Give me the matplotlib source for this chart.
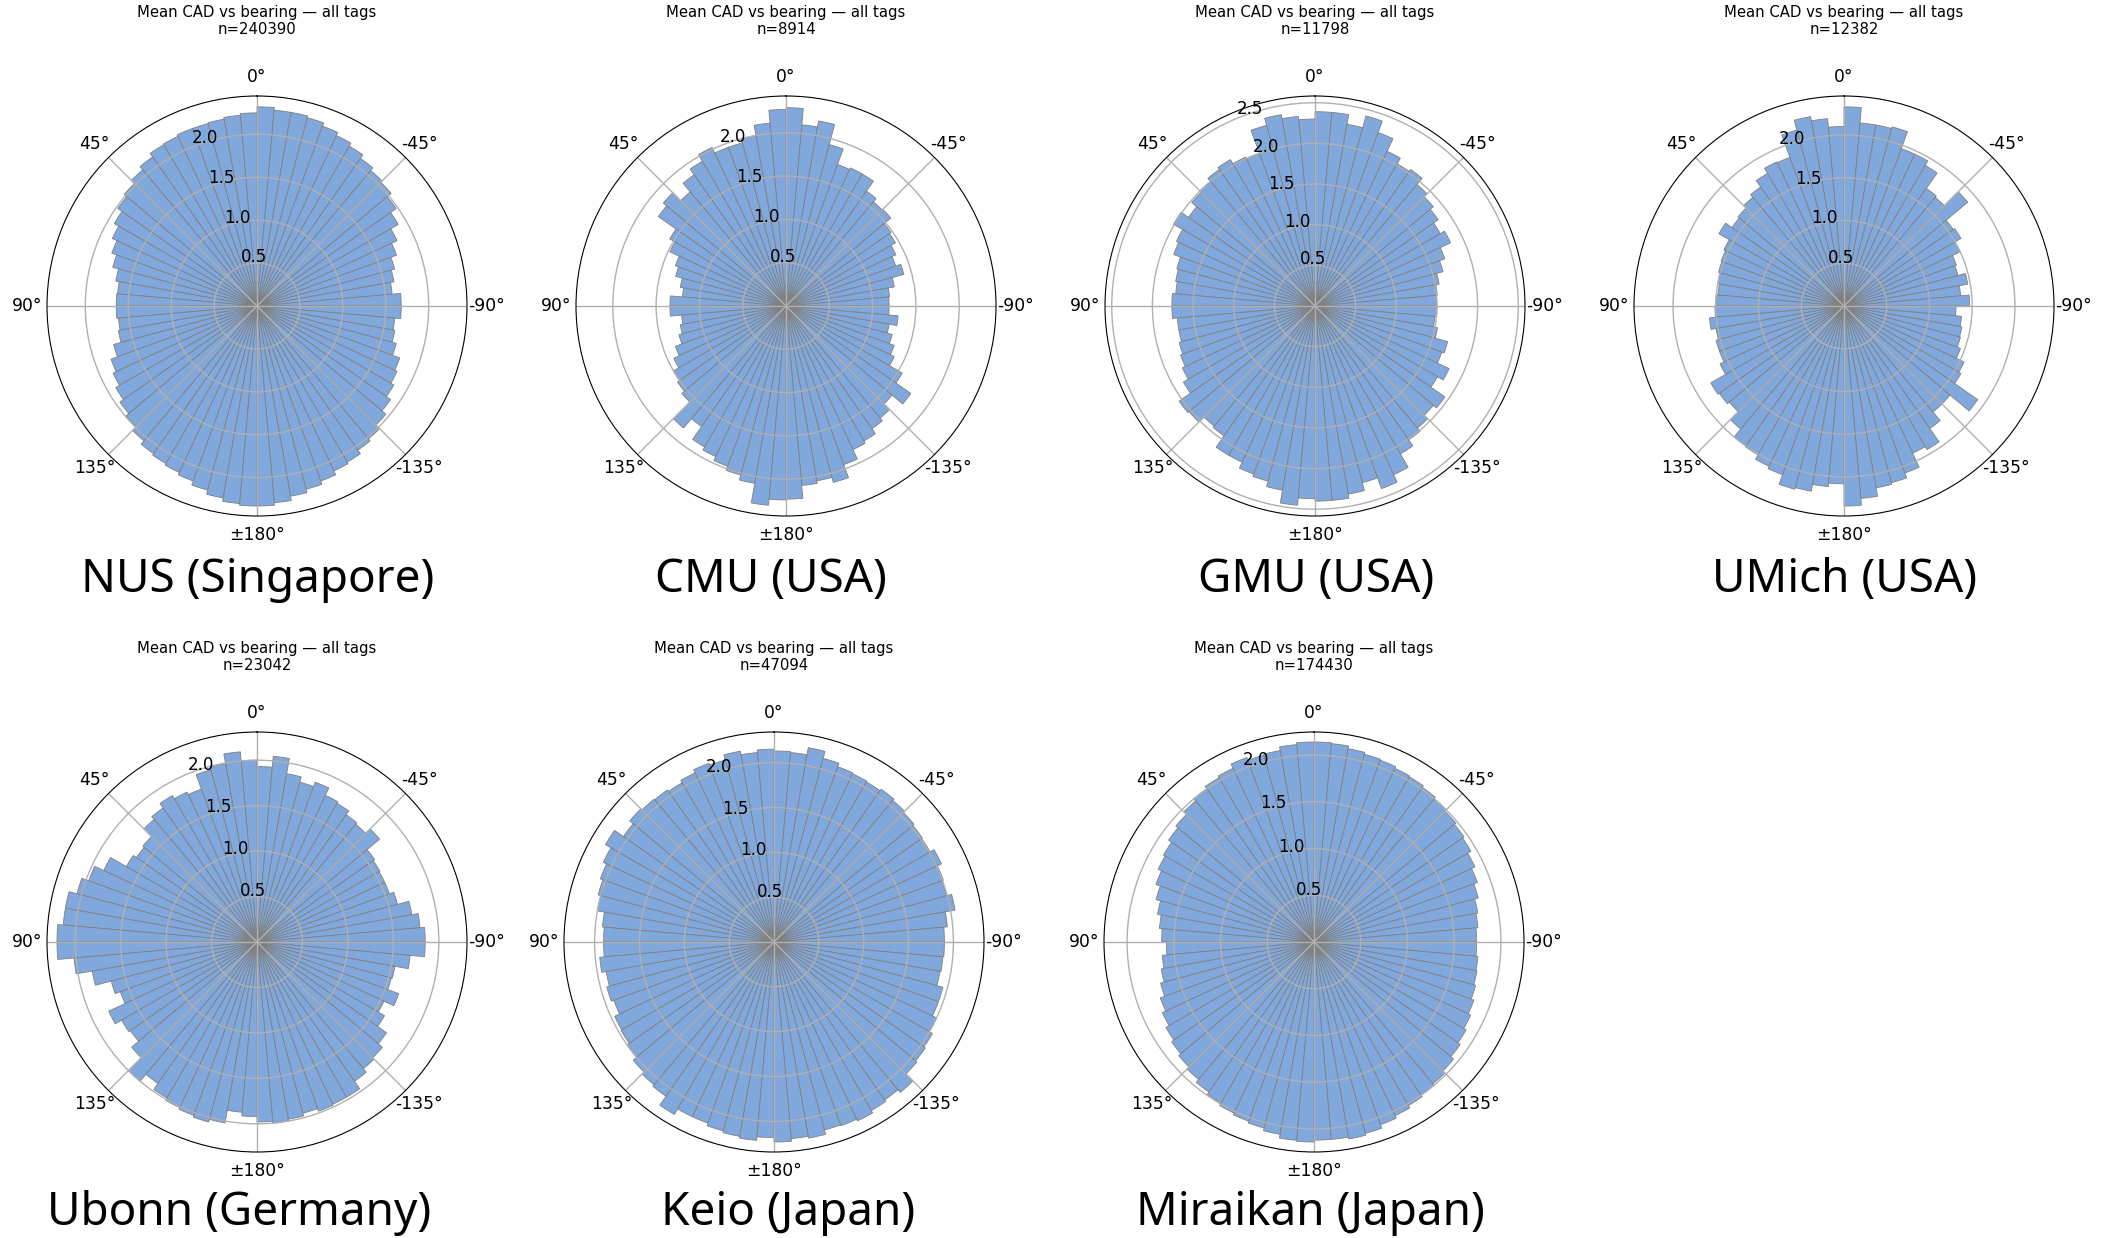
import numpy as np
import matplotlib
matplotlib.use("Agg")
from matplotlib import pyplot as plt

# bin centres: first 36 go clockwise from north (-2.5 .. -177.5),
# last 36 go counter-clockwise from north (2.5 .. 177.5)
bearings = np.concatenate([-np.arange(2.5, 180, 5), np.arange(2.5, 180, 5)])

sites = ["NUS (Singapore)", "CMU (USA)", "GMU (USA)", "UMich (USA)",
         "Ubonn (Germany)", "Keio (Japan)", "Miraikan (Japan)"]
counts = [240390, 8914, 11798, 12382, 23042, 47094, 174430]

nus = [2.32, 2.29, 2.29, 2.27, 2.23, 2.19, 2.15, 2.10, 2.06, 2.04, 1.98, 1.90, 1.80, 1.73, 1.66, 1.62, 1.58, 1.68,
       1.68, 1.61, 1.63, 1.68, 1.77, 1.80, 1.84, 1.90, 1.96, 2.02, 2.05, 2.10, 2.12, 2.17, 2.21, 2.25, 2.30, 2.33,
       2.25, 2.23, 2.21, 2.20, 2.20, 2.18, 2.17, 2.12, 2.07, 2.02, 1.98, 1.92, 1.86, 1.80, 1.74, 1.67, 1.63, 1.64,
       1.64, 1.62, 1.64, 1.73, 1.81, 1.85, 1.90, 1.95, 1.99, 2.05, 2.10, 2.12, 2.14, 2.17, 2.22, 2.27, 2.31, 2.33]
cmu = [2.29, 2.10, 2.17, 1.93, 1.74, 1.76, 1.76, 1.62, 1.57, 1.58, 1.48, 1.46, 1.40, 1.35, 1.41, 1.27, 1.20, 1.19,
       1.19, 1.30, 1.21, 1.27, 1.33, 1.38, 1.55, 1.76, 1.60, 1.69, 1.73, 1.80, 1.83, 1.95, 2.11, 2.05, 2.08, 2.23,
       2.27, 2.12, 2.00, 1.95, 1.95, 2.02, 1.93, 1.85, 1.72, 1.85, 1.80, 1.55, 1.48, 1.36, 1.32, 1.24, 1.20, 1.34,
       1.34, 1.21, 1.24, 1.28, 1.36, 1.43, 1.50, 1.53, 1.57, 1.84, 1.70, 1.88, 1.92, 1.97, 2.02, 2.08, 2.31, 2.24]
gmu = [2.39, 2.39, 2.27, 2.42, 2.27, 2.10, 2.02, 2.05, 1.95, 1.90, 1.85, 1.78, 1.84, 1.70, 1.63, 1.55, 1.51, 1.50,
       1.50, 1.48, 1.53, 1.69, 1.66, 1.82, 1.74, 1.95, 1.90, 1.96, 2.01, 2.10, 2.29, 2.39, 2.25, 2.35, 2.40, 2.40,
       2.30, 2.34, 2.39, 2.30, 2.00, 2.02, 2.08, 2.05, 2.00, 1.98, 1.90, 2.01, 1.88, 1.85, 1.76, 1.74, 1.72, 1.76,
       1.76, 1.70, 1.70, 1.73, 1.76, 1.80, 1.87, 2.04, 2.02, 1.93, 1.95, 2.12, 2.12, 2.20, 2.23, 2.30, 2.46, 2.37]
umich = [2.33, 2.15, 2.15, 2.17, 1.96, 1.96, 1.90, 1.68, 1.66, 1.89, 1.56, 1.58, 1.50, 1.40, 1.38, 1.47, 1.37, 1.47,
         1.31, 1.38, 1.40, 1.41, 1.45, 1.55, 1.58, 1.91, 1.62, 1.62, 1.75, 1.94, 1.90, 2.08, 2.14, 2.16, 2.26, 2.34,
         2.10, 2.20, 2.25, 2.13, 1.85, 1.86, 1.79, 1.70, 1.66, 1.62, 1.60, 1.69, 1.55, 1.53, 1.52, 1.50, 1.48, 1.50,
         1.51, 1.58, 1.52, 1.55, 1.55, 1.60, 1.80, 1.78, 1.75, 1.88, 2.00, 2.01, 2.07, 2.10, 2.22, 2.20, 2.12, 2.08]
ubonn = [1.93, 2.05, 1.88, 1.82, 1.87, 1.78, 1.76, 1.71, 1.69, 1.76, 1.58, 1.56, 1.55, 1.55, 1.60, 1.73, 1.80, 1.85,
         1.85, 1.69, 1.54, 1.53, 1.66, 1.54, 1.62, 1.74, 1.80, 1.82, 1.87, 1.97, 1.97, 1.98, 1.95, 1.98, 2.00, 1.98,
         2.00, 2.10, 1.99, 1.96, 1.79, 1.82, 1.86, 1.80, 1.76, 1.64, 1.62, 1.66, 1.86, 1.97, 2.05, 2.14, 2.14, 2.20,
         2.20, 2.02, 1.84, 1.66, 1.60, 1.80, 1.72, 1.70, 1.80, 2.00, 1.90, 1.98, 2.01, 2.03, 2.05, 2.02, 1.88, 1.92]
keio = [2.13, 2.12, 2.20, 2.12, 2.08, 2.07, 2.06, 2.08, 2.06, 2.04, 2.02, 2.01, 2.06, 2.01, 1.99, 2.05, 1.94, 1.90,
        1.90, 1.89, 1.88, 1.95, 1.95, 2.00, 2.04, 2.06, 2.08, 2.19, 2.15, 2.17, 2.20, 2.18, 2.17, 2.22, 2.20, 2.23,
        2.15, 2.12, 2.16, 2.10, 2.12, 2.08, 2.05, 2.07, 2.08, 2.10, 2.05, 2.17, 2.10, 2.06, 2.03, 2.00, 1.92, 1.90,
        1.90, 1.95, 1.90, 1.93, 1.90, 1.96, 1.97, 2.00, 2.05, 2.08, 2.10, 2.22, 2.15, 2.15, 2.18, 2.20, 2.22, 2.18]
miraikan = [2.14, 2.13, 2.10, 2.08, 2.07, 2.05, 2.04, 2.02, 2.00, 1.98, 1.96, 1.94, 1.90, 1.86, 1.82, 1.78, 1.76, 1.74,
            1.74, 1.76, 1.77, 1.79, 1.82, 1.85, 1.88, 1.91, 1.95, 1.98, 2.00, 2.02, 2.05, 2.08, 2.12, 2.14, 2.12, 2.12,
            2.14, 2.12, 2.08, 2.07, 2.10, 2.05, 2.03, 2.00, 1.97, 1.93, 1.90, 1.86, 1.84, 1.80, 1.75, 1.70, 1.66, 1.63,
            1.58, 1.63, 1.66, 1.70, 1.75, 1.79, 1.83, 1.86, 1.89, 1.92, 1.96, 1.99, 2.02, 2.04, 2.06, 2.09, 2.13, 2.14]
values = [nus, cmu, gmu, umich, ubonn, keio, miraikan]

tick_deg = [0, 45, 90, 135, 180, -135, -90, -45]
tick_lab = ["0°", "45°", "90°", "135°", "±180°", "-135°", "-90°", "-45°"]

W, H = 2108, 1238
fig = plt.figure(figsize=(W / 100, H / 100), dpi=100)

# centres of each polar plot (pixels) and x of the big site label
centres = [(257, 306), (786, 306), (1315, 306), (1844, 306),
           (257, 942), (774, 942), (1314, 942)]
label_x = [258, 771, 1316, 1845, 239, 788, 1310]
label_y = [592, 592, 592, 592, 1225, 1225, 1225]
R = 210

for i in range(7):
    cx, cy = centres[i]
    ax = fig.add_axes([(cx - R) / W, (H - cy - R) / H, 2 * R / W, 2 * R / H],
                      projection="polar")
    ax.set_theta_zero_location("N")
    ax.set_theta_direction(1)
    theta = np.deg2rad(np.mod(bearings, 360))
    ax.bar(theta, values[i], width=np.deg2rad(5), align="center",
           color="#80a8dc", edgecolor="gray", linewidth=0.6)
    ax.set_xticks(np.deg2rad(np.mod(tick_deg, 360)))
    ax.set_xticklabels(tick_lab, fontsize=12.3)
    ax.set_thetalim(0, 2 * np.pi)
    rmax = max(values[i]) * 1.05
    rt = [t for t in [0.5, 1.0, 1.5, 2.0, 2.5] if t < rmax]
    ax.set_yticks(rt)
    ax.set_yticklabels(["%.1f" % t for t in rt], fontsize=12)
    ax.set_rlim(0, rmax)
    ax.set_rlabel_position(22.5)
    ax.grid(True, color="#b0b0b0", linewidth=1.0)
    ax.text(0.5, 1.14, "Mean CAD vs bearing — all tags\nn=%d" % counts[i],
            transform=ax.transAxes, ha="center", va="bottom", fontsize=10.7)
    fig.text(label_x[i] / W, 1 - label_y[i] / H, sites[i], ha="center",
             va="baseline", fontsize=33, family=["Noto Sans", "DejaVu Sans"])

fig.savefig("out.png", dpi=100)
